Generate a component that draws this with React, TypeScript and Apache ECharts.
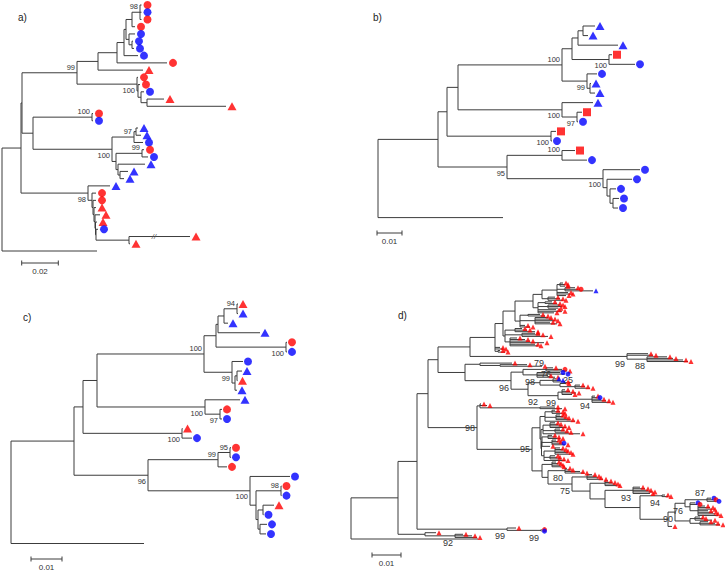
import React, { useEffect, useRef } from "react";
import * as echarts from "echarts";

// ---------------- DATA ----------------
// Trees in Newick form. Leaf names give the marker: rc/bc = red/blue circle,
// rt/bt = red/blue triangle, rs = red square, x = unmarked outgroup.
// Internal labels are bootstrap values (^ drawn above the node, _ below).
// Branch lengths are in scale units (see SCALE_UNITS: units per scale bar).

const A_T1 =
  "((((((rc:1.5,bc:1.5,rc:1.5)98^:8,rc:3):6,(bc:6,(bc:1,bc:2):3):3):2,bc:14):7,rc:50):19,rt:45)";
const A_T2 = "(rc:1,(rc:2,(bc:3,(rt:17,rt:79):6):3):1)100_";
const A_M2 = "(((bt:2,bt:5):2,bc:9)97^:22,((rc:2,bc:6)99^:26,(bt:27,(bt:8,bt:4):2):2):4)100_";
const A_B =
  "(bt:22,(rc:4,(rc:3,(rt:2,(rt:5,(rt:1.5,(bc:2,(rt:61,rt:1):33):0.5):0.5):1):1):1):4)98_";
const TREE_A =
  "((((" + A_T1 + ":21," + A_T2 + ":60)99^:55,((rc:1,bc:1)100^:59," + A_M2 + ":79):11):1," +
  A_B + ":67):19,x:95);";

const B_A = "((((bt:12,bt:5):5,bt:40):6,(rs:3,bc:26)100_:37):10,(bc:10,(bt:1,bt:5):3)99_:25)100^";
const B_C = "(bt:31,(rs:5,bc:1)97_:15)100_";
const B_E = "(bc:37,(bc:25,(bc:6,(bc:6,bc:5):3):3):4)100_";
const TREE_B =
  "((((" + B_A + ":104," + B_C + ":104):11,(rs:5,bc:1)100_:104):9,((rs:13,bc:25)100^:55," +
  B_E + ":96)95_:69):60,x:125);";

const C_A =
  "(((((rt:1,bt:1)94^:13,bt:4):6,bt:42):2,(rc:1,bc:1)100_:70):12,(bc:11,((bt:5,rt:0.5):2,bt:2):3)99_:28)100^";
const C_C = "(bt:35,(rc:2,bc:2)97_:15)100_";
const C_E = "(bc:40,((rc:0.5,bc:0.5)98^:25,((rt:11,bc:0.5):5,(bc:7,bc:6):2):2):6)100_";
const TREE_C =
  "((((" + C_A + ":107," + C_C + ":108):14,(rt:0.5,bc:10)100_:99):9,(((rc:1,bc:1)95^:12,rc:9)99^:70," +
  C_E + ":102)96_:74):63,x:133);";

const D_TA = "((rt:3,rt:5,rt:5):3,(rt:10,rc:13,bt:28):8,rt:11,rt:13,rt:9)";
const D_TB = "(" + D_TA + ":15,(rt:7,rt:12,rt:15):6)";
const D_TC = "(" + D_TB + ":9,((rt:7,rt:12):7,(rt:12,rt:14,rt:10):10,rt:18,rt:24,rt:16):5)";
const D_TD = "(" + D_TC + ":18,((rt:12,rt:17):8,(rt:13,rt:17,rt:20,rt:15,rt:22):15,rt:5,rt:10):5)";
const D_TE =
  "(" + D_TD + ":12,((rt:7,rt:12,rt:20):10,(rt:13,rt:18,rt:26):17,(rt:7,rt:15,rt:20,rt:34,rt:25,rt:28):5):2)";
const D_TMAIN = "(" + D_TE + ":8,rt:5,rt:8,(rt:2,rt:7):3)";
const D_L99 = "(rt:21,rt:26,(rt:20,rt:26,rt:36,rt:41)88_:20)99_";
const D_C96 =
  "(((rt:7,rc:16,rt:21)79^:23,(bc:23,bc:28,rt:11,rt:18)98_:14):12,(((bt:3,bt:7,rt:12)76^:13,(rt:6,(rt:5,rt:10,rt:15)25^:15):20):12,((rt:3,rt:8,rt:14,rt:10):4,(rt:3,bc:5,rt:9,rt:14,rt:18)94_:34)99_:30):17)96_";
const D_N3 = "((" + D_TMAIN + ":25," + D_L99 + ":157):32,((rt:32,(rt:27,rt:42):20):15," + D_C96 + ":46):27)";
const D_P1 = "((rt:3,rt:8,rt:10):7,(rt:4,rt:7,rt:10,rt:14):11,rt:30)";
const D_P2 = "((rt:5,rt:8,rt:12,rt:16):7,(rt:5,rt:9,rt:13):12,rt:37)";
const D_P3 = "((rt:4,rt:8,rt:12):6,(rt:4,rt:6,bc:9,rt:13):10,rt:8)";
const D_P4 = "((rt:5,rt:8,rt:10,rt:13,rt:15):11,(rt:5,rt:7,rt:11):6,rt:21)";
const D_C95TOP = "(" + D_P1 + ":5,(" + D_P2 + ":2,(" + D_P3 + ":0.5," + D_P4 + ":2.5):0.5):1)";
const D_B7 =
  "((((bc:4,rc:6,bc:9)87^:22,(bc:5,rc:7,(rt:7,rt:12,rt:14,rt:10,rt:15,rt:17,rt:20):8):5)76_:10,((rt:5,rt:8,rt:17):5,(rt:8,rt:15,rt:20):10):15)90_:7,rt:4)";
const D_B6 = "((rt:3,rt:6)94_:22," + D_B7 + ":28)";
const D_B5 = "((rt:7,rt:12,rt:15,rt:19,rt:17)93_:28," + D_B6 + ":35)";
const D_B4 = "((rt:3,rt:7,rt:10,rt:12):15," + D_B5 + ":15)";
const D_B3 = "((rt:5,rt:9,rt:11,rt:16):15," + D_B4 + ":18)75_";
const D_B2 = "((rt:2,rt:5,rt:15,rt:19)80_:17," + D_B3 + ":24)";
const D_C95BOT = "((rt:4,rt:6,rt:8,rt:9):10," + D_B2 + ":6)";
const D_C95 = "(" + D_C95TOP + ":8," + D_C95BOT + ":10)95";
const D_N4 = "((rt:1,rt:7,(rt:15,rt:22)92^:60):3," + D_C95 + ":55)98";
const TREE_D =
  "((((" + D_N3 + ":10," + D_N4 + ":49):11,(rt:9,(rc:0.5,bc:0.5)99_:34)99_:90):19,(rt:11,(rt:8,rt:17,rt:22)92_:30):27):47,x:127);";

const TREES = [TREE_A, TREE_B, TREE_C, TREE_D];
const PANEL_NAMES = ["a)", "b)", "c)", "d)"];
const SCALE_TEXTS = ["0.02", "0.01", "0.01", "0.01"];
const SCALE_UNITS = [36.6, 25, 31, 29];
// broken branch mark in tree a: [leaf index, position along tree]
const A_BREAK = [32, 152];

// ---------------- LAYOUT / STYLE ----------------
const RED = "#ff0000";
const BLUE = "#0000ff";
const LINE = "#3c3c3c";
const TXT = "#333333";
const FONT = '"Liberation Sans", Arial, Helvetica, sans-serif';

const PANELS = [
  { left: 2, top: 5, width: 240, height: 246, font: 7.5, circle: 8, tri: [9, 8], sq: 7, off: 6, barX: 19.7, barDy: 258, nameX: 18, nameY: 17 },
  { left: 378, top: 26, width: 300, height: 191.6, font: 7.5, circle: 8, tri: [9, 8], sq: 8, off: 5, barX: -1, barDy: 207, nameX: 373, nameY: 17 },
  { left: 11, top: 304, width: 300, height: 239.5, font: 7.5, circle: 8, tri: [9, 8], sq: 7, off: 5, barX: 20, barDy: 255, nameX: 23, nameY: 317 },
  { left: 351, top: 283, width: 374, height: 256, font: 9, circle: 5, tri: [5, 5], sq: 5, off: 3, barX: 21, barDy: 272, nameX: 398, nameY: 315 },
];

type TNode = { name: string; len: number; children: TNode[] };

function parseNewick(src: string): TNode {
  const s = src.replace(/\s+/g, "");
  let i = 0;
  const readNode = (): TNode => {
    const node: TNode = { name: "", len: 0, children: [] };
    if (s[i] === "(") {
      i++;
      node.children.push(readNode());
      while (s[i] === ",") {
        i++;
        node.children.push(readNode());
      }
      if (s[i] === ")") i++;
    }
    let name = "";
    while (i < s.length && ",():;".indexOf(s[i]) < 0) name += s[i++];
    node.name = name;
    if (s[i] === ":") {
      i++;
      let num = "";
      while (i < s.length && ",();".indexOf(s[i]) < 0) num += s[i++];
      node.len = parseFloat(num) || 0;
    }
    return node;
  };
  return readNode();
}

type Leaf = { x: number; y: number; kind: string };
type Lab = { x: number; y: number; text: string; pos: string };

function layoutTree(root: TNode) {
  const segs: number[][] = [];
  const leaves: Leaf[] = [];
  const labels: Lab[] = [];
  let row = 0;
  const walk = (n: TNode, x: number): number => {
    if (n.children.length === 0) {
      const y = row++;
      leaves.push({ x, y, kind: n.name });
      return y;
    }
    const ys = n.children.map((c) => walk(c, x + c.len));
    const y = (ys[0] + ys[ys.length - 1]) / 2;
    segs.push([x, ys[0], x, ys[ys.length - 1]]);
    n.children.forEach((c, k) => segs.push([x, ys[k], x + c.len, ys[k]]));
    const m = n.name.match(/^(\d+)([\^_]?)$/);
    if (m) labels.push({ x, y, text: m[1], pos: m[2] === "^" ? "above" : m[2] === "_" ? "below" : "mid" });
    return y;
  };
  walk(root, 0);
  return { segs, leaves, labels, rows: row };
}

const MARK: Record<string, { symbol: string; color: string }> = {
  rc: { symbol: "circle", color: RED },
  bc: { symbol: "circle", color: BLUE },
  rt: { symbol: "triangle", color: RED },
  bt: { symbol: "triangle", color: BLUE },
  rs: { symbol: "rect", color: RED },
};

export default function App() {
  const ref = useRef<HTMLDivElement>(null);
  useEffect(() => {
    document.body.style.margin = "0";
    if (!ref.current) return;
    const chart = echarts.init(ref.current, undefined, { renderer: "svg" });
    const grid: any[] = [];
    const xAxis: any[] = [];
    const yAxis: any[] = [];
    const series: any[] = [];
    const graphic: any[] = [];

    PANELS.forEach((p, gi) => {
      const t = layoutTree(parseNewick(TREES[gi]));
      const rows = t.rows;
      const spacing = p.height / (rows - 1);
      grid.push({ left: p.left, top: p.top, width: p.width, height: p.height, containLabel: false });
      xAxis.push({ type: "value", gridIndex: gi, min: 0, max: p.width, show: false });
      yAxis.push({ type: "value", gridIndex: gi, min: 0, max: rows - 1, inverse: true, show: false });

      // branches
      series.push({
        type: "custom",
        xAxisIndex: gi,
        yAxisIndex: gi,
        silent: true,
        itemStyle: { color: LINE },
        data: t.segs,
        renderItem: (_params: any, api: any) => {
          const a = api.coord([api.value(0), api.value(1)]);
          const b = api.coord([api.value(2), api.value(3)]);
          return {
            type: "line",
            shape: { x1: a[0], y1: a[1], x2: b[0], y2: b[1] },
            style: { stroke: LINE, lineWidth: 1 },
          };
        },
      });

      // leaf markers
      series.push({
        type: "scatter",
        xAxisIndex: gi,
        yAxisIndex: gi,
        silent: true,
        symbolOffset: [p.off, 0],
        data: t.leaves
          .filter((l) => MARK[l.kind])
          .map((l) => {
            const mk = MARK[l.kind];
            const size = mk.symbol === "circle" ? p.circle : mk.symbol === "rect" ? p.sq : p.tri;
            return { value: [l.x, l.y], symbol: mk.symbol, symbolSize: size, itemStyle: { color: mk.color } };
          }),
      });

      // bootstrap labels
      const labs: { x: number; y: number; text: string; pos: string }[] = t.labels.slice();
      if (gi === 0) {
        const lf = t.leaves[A_BREAK[0]];
        if (lf) labs.push({ x: A_BREAK[1], y: lf.y, text: "//", pos: "break" });
      }
      const up = -(p.font * 0.65 + 0.5);
      const down = p.font * 0.75 + 0.5;
      series.push({
        type: "custom",
        xAxisIndex: gi,
        yAxisIndex: gi,
        silent: true,
        itemStyle: { color: TXT },
        data: labs.map((l) => [l.x, l.y]),
        renderItem: (params: any, api: any) => {
          const l = labs[params.dataIndex];
          const c = api.coord([l.x, l.y]);
          if (l.pos === "break") {
            return {
              type: "text",
              x: c[0],
              y: c[1],
              style: { text: l.text, fill: "#555", fontSize: 8, fontStyle: "italic", fontFamily: FONT, align: "center", verticalAlign: "middle" },
            };
          }
          const dy = l.pos === "above" ? up : l.pos === "below" ? down : 0;
          return {
            type: "text",
            x: c[0] - 2,
            y: c[1] + dy,
            style: { text: l.text, fill: TXT, fontSize: p.font, fontFamily: FONT, align: "right", verticalAlign: "middle" },
          };
        },
      });

      // scale bar
      const by = p.barDy / spacing;
      const scaleText = SCALE_TEXTS[gi];
      series.push({
        type: "custom",
        xAxisIndex: gi,
        yAxisIndex: gi,
        silent: true,
        itemStyle: { color: LINE },
        data: [[p.barX, by, p.barX + SCALE_UNITS[gi], by]],
        renderItem: (_params: any, api: any) => {
          const a = api.coord([api.value(0), api.value(1)]);
          const b = api.coord([api.value(2), api.value(3)]);
          const st = { stroke: LINE, lineWidth: 1 };
          return {
            type: "group",
            children: [
              { type: "line", shape: { x1: a[0], y1: a[1], x2: b[0], y2: b[1] }, style: st },
              { type: "line", shape: { x1: a[0], y1: a[1] - 2.5, x2: a[0], y2: a[1] + 2.5 }, style: st },
              { type: "line", shape: { x1: b[0], y1: b[1] - 2.5, x2: b[0], y2: b[1] + 2.5 }, style: st },
              {
                type: "text",
                x: (a[0] + b[0]) / 2,
                y: a[1] + 8,
                style: { text: scaleText, fill: TXT, fontSize: 8, fontFamily: FONT, align: "center", verticalAlign: "middle" },
              },
            ],
          };
        },
      });

      graphic.push({
        type: "text",
        x: p.nameX,
        y: p.nameY,
        silent: true,
        style: { text: PANEL_NAMES[gi], fill: "#222", fontSize: 10, fontFamily: FONT, align: "left", verticalAlign: "middle" },
      });
    });

    chart.setOption({
      animation: false,
      backgroundColor: "#ffffff",
      grid,
      xAxis,
      yAxis,
      series,
      graphic,
    });
    return () => chart.dispose();
  }, []);

  return <div ref={ref} style={{ width: 725, height: 570 }} />;
}
